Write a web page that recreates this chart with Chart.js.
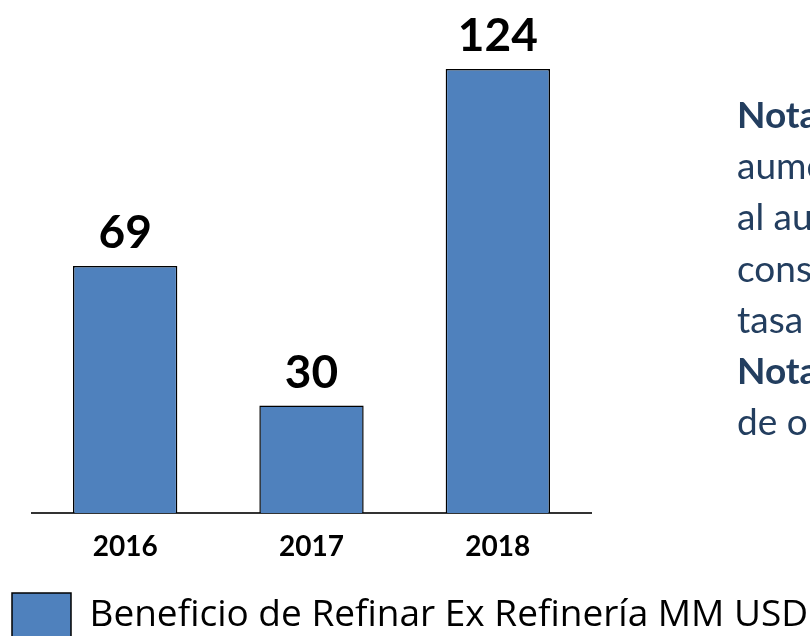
<!DOCTYPE html>
<html>
<head>
<meta charset="utf-8">
<script src="https://cdn.jsdelivr.net/npm/chart.js@4.4.0/dist/chart.umd.min.js"></script>
<style>
  html, body { margin: 0; padding: 0; background: #fff; width: 810px; height: 636px; overflow: hidden; position: relative; }
  #wrap { position: absolute; left: 0; top: 0; width: 810px; height: 648px; }
  #notes { position: absolute; left: 737px; top: 88px; font-family: Lato, sans-serif; font-size: 37px; line-height: 51.2px; color: #233E5F; white-space: nowrap; }
  #notes b { font-weight: 700; }
</style>
</head>
<body>
<div id="wrap"><canvas id="c" width="810" height="648"></canvas></div>
<div id="notes">
  <div><b>Nota 1:</b> El</div>
  <div>aumento del beneficio se debe</div>
  <div>al aumento del margen</div>
  <div>considerando una</div>
  <div>tasa de cambio</div>
  <div><b>Nota 2:</b> Sin incluir costos</div>
  <div>de operación</div>
</div>
<script>
const categories = ['2016', '2017', '2018'];
const beneficioValues = [69, 30, 124];
const seriesLabel = 'Beneficio de Refinar Ex Refinería MM USD';

const valueLabels = {
  id: 'valueLabels',
  afterDatasetsDraw(chart) {
    const ctx = chart.ctx;
    const meta = chart.getDatasetMeta(0);
    ctx.save();
    ctx.font = 'bold 46px Lato, sans-serif';
    ctx.fillStyle = '#000';
    ctx.textAlign = 'center';
    ctx.textBaseline = 'alphabetic';
    meta.data.forEach((bar, i) => {
      ctx.fillText(String(chart.data.datasets[0].data[i]), bar.x, bar.y - 18);
    });
    ctx.restore();
  }
};

new Chart(document.getElementById('c'), {
  type: 'bar',
  data: {
    labels: categories,
    datasets: [{
      label: seriesLabel,
      data: beneficioValues,
      backgroundColor: '#4F81BD',
      borderColor: '#000000',
      borderWidth: 1.5,
      barPercentage: 0.56,
      categoryPercentage: 1.0
    }]
  },
  options: {
    responsive: false,
    animation: false,
    devicePixelRatio: 1,
    layout: { padding: 0 },
    plugins: {
      tooltip: { enabled: false },
      legend: {
        position: 'bottom',
        align: 'start',
        labels: {
          boxWidth: 59,
          boxHeight: 45,
          padding: 12,
          color: '#000',
          font: { family: '"Open Sans", sans-serif', size: 37 }
        }
      }
    },
    scales: {
      x: {
        grid: { display: false, drawTicks: false },
        border: { display: true, color: '#333333', width: 2 },
        ticks: { color: '#000', padding: 17, font: { family: 'Lato, sans-serif', size: 28, weight: 'bold' } },
        afterFit(axis) { axis.height = 68; }
      },
      y: {
        min: 0,
        max: 143.3,
        display: true,
        grid: { display: false, drawTicks: false },
        border: { display: false },
        ticks: { display: false },
        afterFit(axis) { axis.width = 32; }
      },
      yR: {
        position: 'right',
        display: true,
        grid: { display: false, drawTicks: false },
        border: { display: false },
        ticks: { display: false },
        afterFit(axis) { axis.width = 219; }
      }
    }
  },
  plugins: [valueLabels]
});
</script>
</body>
</html>
